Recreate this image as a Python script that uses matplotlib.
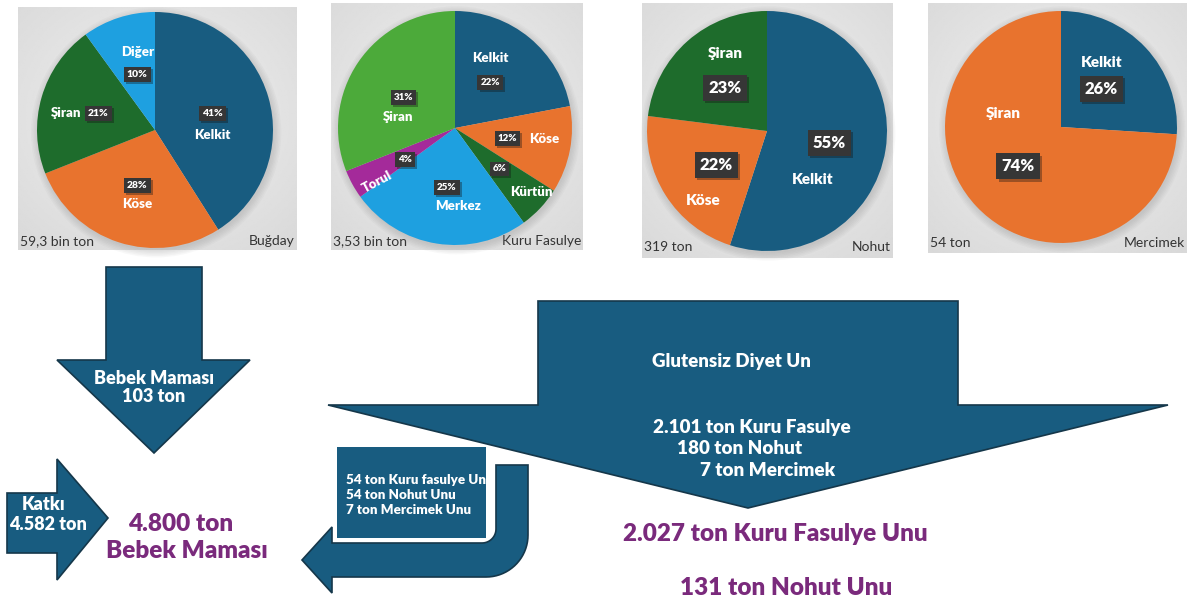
import numpy as np
import matplotlib.pyplot as plt
from matplotlib.patches import Polygon, Rectangle, Circle
import matplotlib.patheffects as pe

plt.rcParams['font.family'] = ['Lato', 'DejaVu Sans']

# district shares (%) per crop
wheat_labels = ['Kelkit', 'Köse', 'Şiran', 'Diğer']
wheat_share = [41, 28, 21, 10]
bean_labels = ['Kelkit', 'Köse', 'Kürtün', 'Merkez', 'Torul', 'Şiran']
bean_share = [22, 12, 6, 25, 4, 31]
chickpea_labels = ['Kelkit', 'Köse', 'Şiran']
chickpea_share = [55, 22, 23]
lentil_labels = ['Kelkit', 'Şiran']
lentil_share = [26, 74]

crops = ['Buğday', 'Kuru Fasulye', 'Nohut', 'Mercimek']
crop_totals = ['59,3 bin ton', '3,53 bin ton', '319 ton', '54 ton']

# flow texts
baby_in = ['Bebek Maması', '103 ton']
additive_in = ['Katkı', '4.582 ton']
baby_out = ['4.800 ton', 'Bebek Maması']
gluten_title = 'Glutensiz Diyet Un'
gluten_in = ['2.101 ton Kuru Fasulye', '180 ton Nohut', '7 ton Mercimek']
gluten_out = ['2.027 ton Kuru Fasulye Unu', '131 ton Nohut Unu']
return_flow = ['54 ton Kuru fasulye Un', '54 ton Nohut Unu', '7 ton Mercimek Unu']

BLUE = '#185c80'
ORANGE = '#e8732e'
DKGREEN = '#1e6c2c'
LTBLUE = '#1ea0e0'
GREEN = '#4caa3a'
PURPLE = '#a42a9a'
TXT_PURPLE = '#7a2a7c'
EDGE = '#15374a'
HEAVY = 'heavy'

W, H = 1195, 600
fig = plt.figure(figsize=(W / 100, H / 100), dpi=100)
ax = fig.add_axes([0, 0, 1, 1])
ax.set_xlim(0, W)
ax.set_ylim(H, 0)
ax.axis('off')


def draw_pie(panel, center, r, labels, shares, colors, name_pos, pct_pos,
             name_fs, pct_fs, total, crop, foot_y, rot=None):
    x0, x1, y0, y1 = panel
    yy, xx = np.mgrid[0:1:200j, 0:1:200j]
    d = np.hypot(xx - 0.5, yy - 0.45)
    grad = 0.945 - 0.13 * d
    ax.imshow(grad, cmap='gray', vmin=0, vmax=1, extent=(x0, x1, y1, y0),
              aspect='auto', zorder=0, interpolation='bilinear')
    ax.text(x0 + 2, foot_y, total, fontsize=10, color='#333333', va='center', ha='left')
    ax.text(x1 - 2, foot_y, crop, fontsize=10, color='#333333', va='center', ha='right')

    cx, cy = center
    pax = fig.add_axes([(cx - r) / W, 1 - (cy + r) / H, 2 * r / W, 2 * r / H])
    for k in range(6):
        pax.add_patch(Circle((0.01, -0.02), 1 + 0.012 * k, color='#808080',
                             alpha=0.05, lw=0, clip_on=False, zorder=0))
    pax.pie(shares, colors=colors, startangle=90, counterclock=False, radius=1,
            wedgeprops=dict(linewidth=0))
    pax.set_xlim(-1, 1)
    pax.set_ylim(-1, 1)
    pax.set_aspect('equal')
    pax.axis('off')
    for i, (lab, val) in enumerate(zip(labels, shares)):
        angle = rot[i] if rot else 0
        pax.text(*name_pos[i], lab, color='white', fontsize=name_fs, fontweight=HEAVY,
                 ha='center', va='center', rotation=angle)
        t = pax.text(*pct_pos[i], f'{val}%', color='white', fontsize=pct_fs,
                     fontweight=HEAVY, ha='center', va='center',
                     bbox=dict(boxstyle='square,pad=0.3', fc='#363636', ec='none'))
        t.get_bbox_patch().set_path_effects(
            [pe.SimplePatchShadow(offset=(1.5, -1.5), alpha=0.35), pe.Normal()])


draw_pie((18, 297, 7, 250), (155, 130), 118, wheat_labels, wheat_share,
         [BLUE, ORANGE, DKGREEN, LTBLUE],
         [(0.49, -0.04), (-0.15, -0.63), (-0.75, 0.14), (-0.15, 0.66)],
         [(0.49, 0.14), (-0.15, -0.47), (-0.48, 0.14), (-0.15, 0.47)],
         9.5, 7.5, crop_totals[0], crops[0], 241)

draw_pie((331, 583, 3, 250), (455, 128), 117, bean_labels, bean_share,
         [BLUE, ORANGE, DKGREEN, LTBLUE, PURPLE, GREEN],
         [(0.30, 0.60), (0.76, -0.09), (0.65, -0.55), (0.03, -0.67), (-0.67, -0.46), (-0.49, 0.09)],
         [(0.30, 0.39), (0.45, -0.09), (0.38, -0.35), (-0.07, -0.51), (-0.43, -0.27), (-0.44, 0.26)],
         9.5, 7, crop_totals[1], crops[1], 241, rot=[0, 0, 0, 0, 28, 0])

draw_pie((642, 893, 3, 258), (767, 131), 120, chickpea_labels, chickpea_share,
         [BLUE, ORANGE, DKGREEN],
         [(0.38, -0.40), (-0.53, -0.58), (-0.35, 0.65)],
         [(0.52, -0.10), (-0.42, -0.28), (-0.35, 0.36)],
         11, 12, crop_totals[2], crops[2], 247)

draw_pie((928, 1187, 3, 253), (1061, 127), 116, lentil_labels, lentil_share,
         [BLUE, ORANGE],
         [(0.35, 0.56), (-0.50, 0.12)],
         [(0.35, 0.33), (-0.37, -0.34)],
         11, 12, crop_totals[3], crops[3], 243)

ax.set_xlim(0, W)
ax.set_ylim(H, 0)

# block arrows
arrow_kw = dict(fc=BLUE, ec=EDGE, lw=1.2, zorder=2, joinstyle='miter')
ax.add_patch(Polygon([(106, 267), (202, 267), (202, 360), (250, 360), (154, 453),
                      (57, 360), (106, 360)], closed=True, **arrow_kw))
ax.add_patch(Polygon([(7, 493), (57, 493), (57, 459), (108, 518), (57, 580),
                      (57, 553), (7, 553)], closed=True, **arrow_kw))
ax.add_patch(Polygon([(538, 301), (958, 301), (958, 405), (1168, 405), (748, 508),
                      (328, 405), (538, 405)], closed=True, **arrow_kw))


def arc(cx, cy, rad, a0, a1, n=20):
    t = np.radians(np.linspace(a0, a1, n))
    return list(zip(cx + rad * np.cos(t), cy + rad * np.sin(t)))


# U-turn arrow
R_out, R_in = 42, 14
pts = [(496, 465), (528, 465), (528, 577 - R_out)]
pts += arc(528 - R_out, 577 - R_out, R_out, 0, 90)[1:]
pts += [(332, 577), (332, 593), (302, 560), (332, 527), (332, 543), (496 - R_in, 543)]
pts += arc(496 - R_in, 543 - R_in, R_in, 90, 0)[1:]
ax.add_patch(Polygon(pts, closed=True, **arrow_kw))

ax.add_patch(Rectangle((337, 447), 149, 91, fc=BLUE, ec='none', zorder=2))
for i, line in enumerate(return_flow):
    ax.text(346, 480 + 15 * i, line, color='white', fontsize=9.6, fontweight=HEAVY,
            va='center', ha='left', zorder=3)

white_kw = dict(color='white', fontweight=HEAVY, va='center', zorder=3)
ax.text(154, 378, baby_in[0], fontsize=13, ha='center', **white_kw)
ax.text(154, 397, baby_in[1], fontsize=13, ha='center', **white_kw)
ax.text(44, 504, additive_in[0], fontsize=13, ha='center', **white_kw)
ax.text(48, 525, additive_in[1], fontsize=13, ha='center', **white_kw)

ax.text(652, 362, gluten_title, fontsize=13.5, ha='left', **white_kw)
for x, y, line in zip([653, 677, 700], [427, 449, 470], gluten_in):
    ax.text(x, y, line, fontsize=13.6, ha='left', **white_kw)

purple_kw = dict(color=TXT_PURPLE, fontweight=HEAVY, va='center', ha='center', fontsize=17.5)
ax.text(181, 524, baby_out[0], **purple_kw)
ax.text(187, 551, baby_out[1], **purple_kw)
ax.text(775, 534, gluten_out[0], **purple_kw)
ax.text(786, 588, gluten_out[1], **purple_kw)

fig.savefig('out.png', dpi=100)
